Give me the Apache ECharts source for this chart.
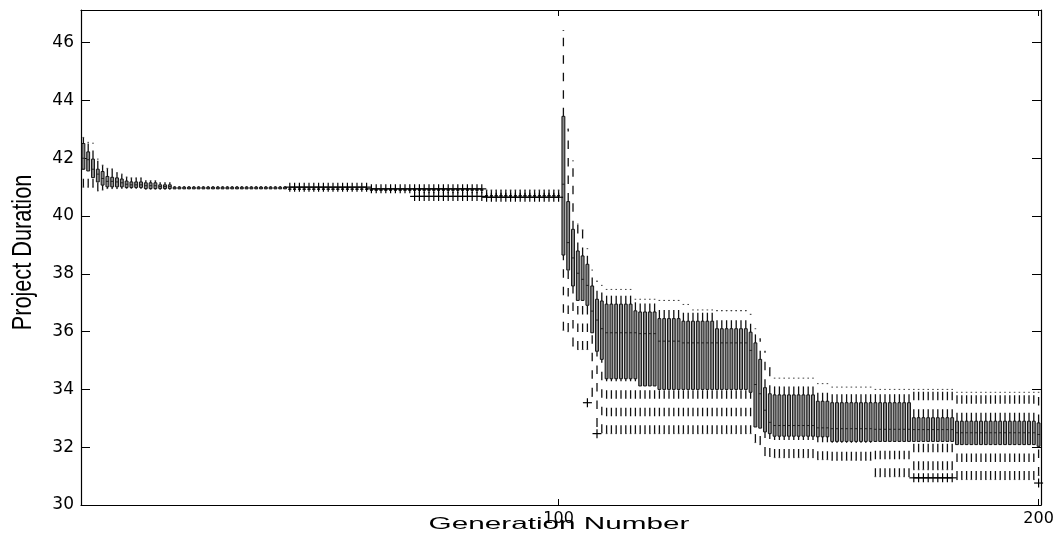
<!DOCTYPE html>
<html lang="en">
<head>
    <meta charset="utf-8">
    <title>Project Duration per Generation</title>
    <script type="text/javascript" src="https://cdn.jsdelivr.net/npm/echarts@6/dist/echarts.min.js"></script>
    <style type="text/css">
        html, body {
            margin: 0;
            padding: 0;
            background: #ffffff;
        }

        #main {
            width: 1062px;
            height: 545px;
        }
    </style>
</head>
<body>
<div id="main"></div>
<script type="text/javascript">
    // box statistics per run of generations
    var runFrom = [1, 2, 3, 4, 5, 6, 7, 8, 9, 10, 11, 14, 17, 20, 44, 61, 70, 85,
        101, 102, 103, 104, 105, 106, 107, 108, 109, 110, 116, 117, 121, 126, 128, 133, 140,
        141, 142, 143, 144, 145, 154, 157, 166, 174, 183, 200];
    var runTo = [1, 2, 3, 4, 5, 6, 7, 8, 9, 10, 13, 16, 19, 43, 60, 69, 84, 100,
        101, 102, 103, 104, 105, 106, 107, 108, 109, 115, 116, 120, 125, 127, 132, 139, 140,
        141, 142, 143, 144, 153, 156, 165, 173, 182, 199, 200];
    var lowWhisker = [41.0, 41.0, 41.0, 40.87, 40.9, 40.95, 40.95, 40.95, 40.96, 40.96, 40.96, 40.93, 40.93, 40.93, 40.93, 40.9, 40.9, 40.7,
        36.05, 36.0, 35.5, 35.38, 35.38, 35.38, 33.76, 32.72, 32.5, 32.47, 32.47, 32.47, 32.47, 32.47, 32.47, 32.47, 32.47,
        32.16, 32.09, 31.71, 31.68, 31.64, 31.57, 31.55, 30.98, 31.22, 30.88, 31.02];
    var q1 = [41.62, 41.56, 41.33, 41.18, 41.07, 41.01, 41.01, 41.01, 41.01, 40.99, 40.99, 40.95, 40.95, 40.94, 40.93, 40.9, 40.9, 40.7,
        38.65, 38.13, 37.58, 37.08, 37.08, 36.91, 35.96, 35.32, 35.04, 34.37, 34.37, 34.12, 34.0, 34.0, 34.0, 34.0, 33.9,
        32.7, 32.66, 32.53, 32.47, 32.38, 32.36, 32.2, 32.2, 32.2, 32.09, 32.03];
    var median = [42.0, 41.95, 41.62, 41.45, 41.3, 41.2, 41.2, 41.18, 41.15, 41.1, 41.08, 41.05, 41.02, 40.97, 40.93, 40.9, 40.9, 40.7,
        41.1, 39.08, 38.55, 38.02, 37.81, 37.6, 36.71, 36.4, 36.1, 35.96, 35.96, 35.93, 35.67, 35.61, 35.61, 35.61, 35.35,
        34.17, 33.85, 33.28, 32.86, 32.75, 32.67, 32.64, 32.62, 32.61, 32.5, 32.44];
    var q3 = [42.51, 42.22, 41.97, 41.62, 41.54, 41.37, 41.34, 41.32, 41.28, 41.21, 41.18, 41.15, 41.08, 41.0, 40.93, 40.9, 40.9, 40.7,
        43.45, 40.5, 39.54, 38.79, 38.62, 38.33, 37.58, 37.12, 37.06, 36.95, 36.72, 36.68, 36.45, 36.36, 36.36, 36.1, 35.98,
        35.61, 35.04, 34.06, 33.85, 33.81, 33.59, 33.54, 33.54, 33.02, 32.9, 32.84];
    var highWhisker = [42.72, 42.55, 42.52, 41.97, 41.76, 41.65, 41.63, 41.5, 41.45, 41.35, 41.32, 41.22, 41.15, 41.02, 40.93, 40.9, 40.9, 40.9,
        46.42, 43.01, 41.91, 39.72, 39.52, 38.87, 38.13, 37.75, 37.6, 37.46, 37.12, 37.12, 37.08, 36.94, 36.75, 36.73, 36.6,
        36.1, 35.75, 35.32, 34.75, 34.39, 34.2, 34.08, 34.0, 34.0, 33.9, 33.9];

    // outliers ('+' marks), also per run of generations
    var outFrom = [44, 61, 70, 85, 106, 108, 174, 200];
    var outTo = [60, 84, 84, 100, 106, 108, 182, 200];
    var outValue = [41.0, 40.94, 40.68, 40.65, 33.54, 32.47, 30.94, 30.76];

    // axis ticks
    var xTicks = [100, 200];
    var yTicks = [30, 32, 34, 36, 38, 40, 42, 44, 46];

    var boxData = [];
    for (var i = 0; i < runFrom.length; i++) {
        for (var g = runFrom[i]; g <= runTo[i]; g++) {
            boxData.push([g, lowWhisker[i], q1[i], median[i], q3[i], highWhisker[i]]);
        }
    }
    var outData = [];
    for (var j = 0; j < outFrom.length; j++) {
        for (var k = outFrom[j]; k <= outTo[j]; k++) {
            outData.push([k, outValue[j]]);
        }
    }

    function renderBox(params, api) {
        var g = api.value(0);
        var x = api.coord([g, api.value(3)])[0];
        var yLo = api.coord([g, api.value(1)])[1];
        var yQ1 = api.coord([g, api.value(2)])[1];
        var yMed = api.coord([g, api.value(3)])[1];
        var yQ3 = api.coord([g, api.value(4)])[1];
        var yHi = api.coord([g, api.value(5)])[1];
        var hw = api.size([1, 0])[0] * 0.3;
        var dash = {stroke: '#111', lineWidth: 1.3, lineDash: [8.5, 9], fill: null};
        var cap = {stroke: '#444', lineWidth: 1};
        var children = [];
        // whiskers are drawn from bottom to top, like the original
        if (yLo - yQ1 > 0.5) {
            children.push({type: 'line', shape: {x1: x, y1: yLo, x2: x, y2: yQ1}, style: dash});
            children.push({type: 'line', shape: {x1: x - 0.8, y1: yLo, x2: x + 0.8, y2: yLo}, style: cap});
        }
        if (yQ3 - yHi > 0.5) {
            children.push({type: 'line', shape: {x1: x, y1: yQ3, x2: x, y2: yHi}, style: dash});
            children.push({type: 'line', shape: {x1: x - 0.8, y1: yHi, x2: x + 0.8, y2: yHi}, style: cap});
        }
        children.push({
            type: 'rect',
            shape: {x: x - hw, y: yQ3, width: hw * 2, height: Math.max(yQ1 - yQ3, 0)},
            style: {fill: '#8a8a8a', stroke: '#111', lineWidth: 1}
        });
        children.push({
            type: 'line',
            shape: {x1: x - hw, y1: yMed, x2: x + hw, y2: yMed},
            style: {stroke: '#222', lineWidth: 1}
        });
        return {type: 'group', children: children};
    }

    function renderPlus(params, api) {
        var p = api.coord([api.value(0), api.value(1)]);
        var s = 4.5;
        var st = {stroke: '#000', lineWidth: 1.2};
        return {
            type: 'group',
            children: [
                {type: 'line', shape: {x1: p[0] - s, y1: p[1], x2: p[0] + s, y2: p[1]}, style: st},
                {type: 'line', shape: {x1: p[0], y1: p[1] - s, x2: p[0], y2: p[1] + s}, style: st}
            ]
        };
    }

    var myChart = echarts.init(document.getElementById('main'));

    var axisLineStyle = {show: true, onZero: false, lineStyle: {color: '#000', width: 1.2}};

    var option = {
        animation: false,
        backgroundColor: '#ffffff',
        grid: {left: 81, right: 21, top: 10, bottom: 40},
        xAxis: [{
            type: 'value',
            position: 'bottom',
            min: 0.5,
            max: 200.5,
            axisLine: axisLineStyle,
            axisTick: {show: true, inside: true, length: 6, customValues: xTicks, lineStyle: {color: '#000'}},
            axisLabel: {customValues: xTicks, color: '#000', fontFamily: 'DejaVu Sans', fontSize: 16, margin: 6},
            splitLine: {show: false}
        }, {
            type: 'value',
            position: 'top',
            min: 0.5,
            max: 200.5,
            axisLine: axisLineStyle,
            axisTick: {show: true, inside: true, length: 6, customValues: xTicks, lineStyle: {color: '#000'}},
            axisLabel: {show: false},
            splitLine: {show: false}
        }],
        yAxis: [{
            type: 'value',
            position: 'left',
            min: 30,
            max: 47.13,
            axisLine: axisLineStyle,
            axisTick: {show: true, inside: true, length: 9, customValues: yTicks, lineStyle: {color: '#000'}},
            axisLabel: {customValues: yTicks, color: '#000', fontFamily: 'DejaVu Sans', fontSize: 17, margin: 7},
            splitLine: {show: false}
        }, {
            type: 'value',
            position: 'right',
            min: 30,
            max: 47.13,
            axisLine: axisLineStyle,
            axisTick: {show: true, inside: true, length: 9, customValues: yTicks, lineStyle: {color: '#000'}},
            axisLabel: {show: false},
            splitLine: {show: false}
        }],
        graphic: [{
            type: 'text',
            x: 559,
            y: 524.5,
            scaleX: 1.8,
            style: {
                text: 'Generation Number',
                font: '16.5px "Liberation Sans", Arial, sans-serif',
                fill: '#000',
                align: 'center',
                verticalAlign: 'middle',
                textAlign: 'center',
                textVerticalAlign: 'middle'
            }
        }, {
            type: 'text',
            x: 23,
            y: 252.5,
            rotation: Math.PI / 2,
            scaleX: 0.775,
            style: {
                text: 'Project Duration',
                font: '28px "Liberation Sans", Arial, sans-serif',
                fill: '#000',
                align: 'center',
                verticalAlign: 'middle',
                textAlign: 'center',
                textVerticalAlign: 'middle'
            }
        }],
        series: [{
            type: 'custom',
            name: 'boxes',
            xAxisIndex: 0,
            yAxisIndex: 0,
            renderItem: renderBox,
            encode: {x: 0, y: [1, 2, 3, 4, 5]},
            data: boxData
        }, {
            type: 'custom',
            name: 'outliers',
            xAxisIndex: 0,
            yAxisIndex: 0,
            renderItem: renderPlus,
            encode: {x: 0, y: 1},
            data: outData
        }]
    };

    myChart.setOption(option);
</script>
</body>
</html>
